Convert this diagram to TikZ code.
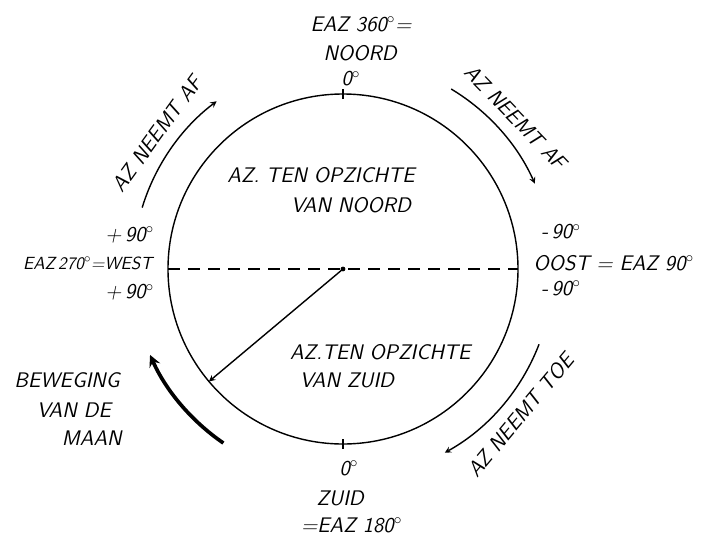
\documentclass[tikz,border=0pt]{standalone}
\usetikzlibrary{arrows}
\tikzset{
  lbl/.style={font=\sffamily\slshape\fontsize{15}{18}\selectfont, inner sep=0pt},
  lblsmall/.style={font=\sffamily\slshape\fontsize{12.5}{15}\selectfont, inner sep=0pt}
}
\begin{document}
\begin{tikzpicture}[>=stealth, line width=1pt]
    \useasboundingbox (-8.575,-6.95) rectangle (9.1,6.725);

    % Circle
    \coordinate (C) at (0,0);
    \draw (C) circle (4.375);
    \fill (C) circle (0.06);
    \draw (0,4.25) -- (0,4.5);
    \draw (0,-4.25) -- (0,-4.5);

    % Horizon
    \draw[dash pattern=on 0.3cm off 0.2cm] (180:4.375) -- (0:4.375);

    % Azimuth direction
    \coordinate (P) at (220:4.375);
    \draw[->] (C) -- (P);

    % Arrows round the circle
    \draw[->] (163:5.25) arc (163:127:5.25);
    \draw[->] (59:5.25) arc (59:24:5.25);
    \draw[->] (-21:5.25) arc (-21:-61:5.25);
    \draw[->, line width=2.6pt] (235.5:5.28) arc (235.5:204:5.28);

    % Top
    \node[lbl] (eaz360) at (0.45,6.12) {EAZ 360$^\circ$=};
    \node[lbl] (noord) at (0.43,5.4) {NOORD};
    \node[lbl] (nul1) at (0.2,4.76) {0$^\circ$};

    % Bottom
    \node[lbl] (nul2) at (0.15,-4.98) {0$^\circ$};
    \node[lbl] (zuid) at (-0.07,-5.73) {ZUID};
    \node[lbl] (eaz180) at (0.22,-6.4) {=EAZ 180$^\circ$};

    % West
    \node[lbl] (plusA) at (-5.33,0.85) {+\,90$^\circ$};
    \node[lblsmall, anchor=east] (west) at (-4.75,0.15) {EAZ\,270$^\circ$=WEST};
    \node[lbl] (plusB) at (-5.33,-0.58) {+\,90$^\circ$};

    % East
    \node[lbl] (minA) at (5.45,0.93) {-\,90$^\circ$};
    \node[lbl, anchor=west] (oost) at (4.75,0.15) {OOST = EAZ 90$^\circ$};
    \node[lbl] (minB) at (5.45,-0.48) {-\,90$^\circ$};

    % Inside
    \node[lbl] (noordA) at (-0.55,2.35) {AZ. TEN OPZICHTE};
    \node[lbl] (noordB) at (0.2,1.6) {VAN NOORD};
    \node[lbl] (zuidA) at (0.93,-2.08) {AZ.TEN OPZICHTE};
    \node[lbl] (zuidB) at (0.1,-2.78) {VAN ZUID};

    % Labels on the arrows
    \node[lbl, rotate=54] (afL) at (144:5.75) {AZ NEEMT AF};
    \node[lbl, rotate=-46] (afR) at (41.3:5.75) {AZ NEEMT AF};
    \node[lbl, rotate=50] (toe) at (-39.5:5.75) {AZ NEEMT TOE};

    % Moon
    \node[lbl] (maanA) at (-6.9,-2.77) {BEWEGING};
    \node[lbl] (maanB) at (-6.73,-3.52) {VAN DE};
    \node[lbl] (maanC) at (-6.28,-4.23) {MAAN};
\end{tikzpicture}
\end{document}
